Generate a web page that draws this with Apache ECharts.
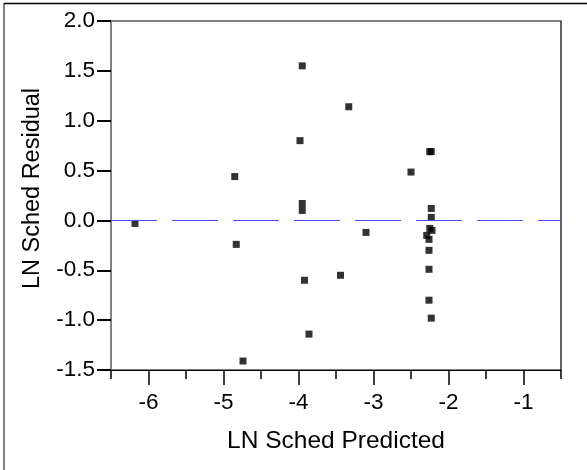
<!DOCTYPE html>
<html>
<head>
<meta charset="utf-8">
<script src="https://cdn.jsdelivr.net/npm/echarts@6/dist/echarts.min.js"></script>
<style>
  html, body { margin: 0; padding: 0; background: #fff; }
  #chart { width: 587px; height: 470px; }
</style>
</head>
<body>
<div id="chart"></div>
<script>
// residual vs predicted
const predicted = [-3.95, -3.33, -3.98, -2.25, -2.23, -2.50, -4.85, -3.95, -3.95, -2.23, -2.23, -6.18, -2.25,
  -2.22, -3.10, -2.29, -2.26, -4.83, -2.26, -2.26, -3.44, -3.92, -2.26, -2.23, -3.86, -4.74]
const residual = [1.55, 1.14, 0.80, 0.69, 0.69, 0.485, 0.44, 0.17, 0.10, 0.12, 0.03, -0.03, -0.08,
  -0.10, -0.12, -0.15, -0.19, -0.24, -0.30, -0.49, -0.55, -0.60, -0.80, -0.98, -1.14, -1.41]
const xMajorTicks = [-6, -5, -4, -3, -2, -1]
const xMinorTicks = [-6.5, -5.5, -4.5, -3.5, -2.5, -1.5, -0.5]

const font = 'Liberation Sans, Arial, sans-serif'
const plotBox = { left: 111, top: 21, right: 26, bottom: 100 }
const chart = echarts.init(document.getElementById('chart'))

chart.setOption({
  animation: false,
  graphic: [
    // outer frame: gray left edge, black top edge
    { type: 'line', shape: { x1: 4, y1: 3, x2: 4, y2: 470 }, style: { stroke: '#808080', lineWidth: 2 } },
    { type: 'line', shape: { x1: 4, y1: 3.5, x2: 587, y2: 3.5 }, style: { stroke: '#000', lineWidth: 1.5 } }
  ],
  grid: [
    { ...plotBox, show: true, borderColor: '#000', borderWidth: 1.2 },
    // second grid only carries the half-unit ticks
    { ...plotBox, show: false }
  ],
  xAxis: [
    {
      type: 'value',
      gridIndex: 0,
      min: -6.5,
      max: -0.5,
      name: 'LN Sched Predicted',
      nameLocation: 'middle',
      nameGap: 59,
      nameTextStyle: { color: '#000', fontSize: 24.5, fontFamily: font },
      axisLine: { onZero: false, lineStyle: { color: '#000', width: 1.2 } },
      axisTick: { customValues: xMajorTicks, length: 15, lineStyle: { color: '#000', width: 1.5 } },
      axisLabel: { customValues: xMajorTicks, margin: 21, color: '#000', fontSize: 22.5, fontFamily: font },
      splitLine: { show: false }
    },
    {
      type: 'value',
      gridIndex: 1,
      min: -6.5,
      max: -0.5,
      position: 'bottom',
      axisLine: { show: false, onZero: false },
      axisTick: { customValues: xMinorTicks, length: 9, lineStyle: { color: '#000', width: 1.5 } },
      axisLabel: { show: false },
      splitLine: { show: false }
    }
  ],
  yAxis: [
    {
      type: 'value',
      gridIndex: 0,
      min: -1.5,
      max: 2.0,
      interval: 0.5,
      name: 'LN Sched Residual',
      nameLocation: 'middle',
      nameGap: 66,
      nameTextStyle: { color: '#000', fontSize: 23.5, fontFamily: font, padding: [0, 0, 0, 14] },
      axisLine: { onZero: false, lineStyle: { color: '#808080', width: 2 } },
      axisTick: { length: 14, lineStyle: { color: '#000', width: 2 } },
      axisLabel: { margin: 16, color: '#000', fontSize: 22.5, fontFamily: font, formatter: v => v.toFixed(1) },
      splitLine: { show: false }
    },
    {
      type: 'value',
      gridIndex: 1,
      min: -1.5,
      max: 2.0,
      show: false
    }
  ],
  series: [{
    type: 'scatter',
    xAxisIndex: 0,
    yAxisIndex: 0,
    symbol: 'rect',
    symbolSize: 7,
    itemStyle: { color: '#000' },
    data: predicted.map((x, i) => [x, residual[i]]),
    markLine: {
      silent: true,
      symbol: 'none',
      label: { show: false },
      lineStyle: { color: '#4b4bf0', width: 1.2, type: [46, 15] },
      data: [{ yAxis: 0 }]
    }
  }]
})
</script>
</body>
</html>
